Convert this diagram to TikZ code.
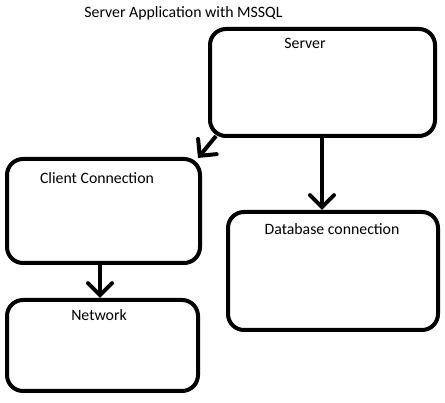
\documentclass[tikz,border=0pt]{standalone}
\usepackage{fontspec}
\setmainfont{Carlito}
\usetikzlibrary{arrows.meta}
\begin{document}
\begin{tikzpicture}[x=1pt,y=-1pt,
  box/.style={draw=black,line width=4pt,rounded corners=16pt},
  lbl/.style={font=\fontsize{15.8}{19}\selectfont,inner sep=0pt,anchor=center},
  arr/.style={line width=4pt,-{Straight Barb[length=12pt,width=24pt,line cap=round]}}]
\useasboundingbox[fill=white] (0,0) rectangle (445,403);
\node[lbl] (title) at (183.5,13) {Server Application with MSSQL};
\draw[box] (210,29) rectangle (435,136);
\coordinate (srvBL) at (216,136);
\coordinate (srvB) at (322,136);
\node[lbl] (srv) at (305,43) {Server};
\draw[box] (7,159) rectangle (200,263);
\node[lbl] (cli) at (97,178) {Client Connection};
\coordinate (cliT) at (198,158);
\coordinate (cliB) at (100,263);
\draw[box] (7,300) rectangle (198,391);
\node[lbl] (net) at (99,315) {Network};
\coordinate (netT) at (100,298);
\draw[box] (228,212) rectangle (438,330);
\node[lbl] (db) at (332,229) {Database connection};
\coordinate (dbT) at (322,210);
\draw[arr] (srvBL) -- (cliT);
\draw[arr] (srvB) -- (dbT);
\draw[arr] (cliB) -- (netT);
\end{tikzpicture}
\end{document}
